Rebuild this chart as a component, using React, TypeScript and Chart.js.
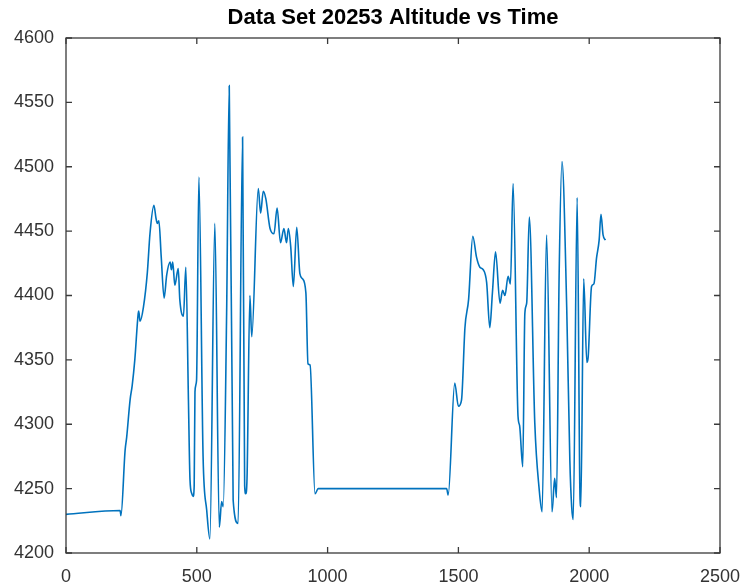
import { useEffect, useRef } from "react";
import { Chart, registerables } from "chart.js";

Chart.register(...registerables);

const chartTitle = "Data Set 20253 Altitude vs Time";

const timeValues = [
  0, 207, 210, 226, 232, 245, 253, 263, 276, 278, 283, 296, 311, 321, 336, 344, 349, 355, 364, 375,
  385, 398, 403, 408, 416, 429, 435, 449, 458, 468, 474, 481, 486, 490, 493, 499, 508, 524, 538, 550, 569, 586,
  595, 601, 614, 624, 639, 658, 675, 683, 687, 692, 703, 710, 735, 744, 754, 764, 780, 795, 807, 820, 833, 843,
  850, 859, 869, 882, 894, 904, 917, 925, 933, 952, 964, 1455, 1461, 1486, 1500, 1512, 1525, 1539, 1555, 1569,
  1582, 1595, 1608, 1620, 1630, 1642, 1659, 1669, 1678, 1690, 1699, 1709, 1728, 1734, 1746, 1754, 1761, 1771, 1792, 1809,
  1820, 1837, 1858, 1868, 1875, 1885, 1896, 1914, 1926, 1933, 1939, 1954, 1965, 1968, 1979, 1991, 1996, 2009, 2018, 2028, 2038, 2045,
  2053, 2062,
];

const altitudeValues = [
  4230, 4233, 4229, 4280, 4290, 4319, 4330, 4350, 4386, 4388, 4380, 4391, 4418, 4448, 4470, 4460, 4456, 4458, 4430, 4398,
  4416, 4426, 4420, 4426, 4408, 4421, 4397, 4384, 4422, 4319, 4257, 4246, 4244, 4252, 4325, 4334, 4492, 4275, 4233, 4211, 4456, 4220,
  4240, 4236, 4386, 4563, 4241, 4223, 4523, 4252, 4246, 4258, 4400, 4368, 4483, 4464, 4481, 4475, 4452, 4448, 4468, 4441, 4452, 4441,
  4452, 4438, 4407, 4453, 4417, 4413, 4402, 4347, 4346, 4246, 4250, 4250, 4245, 4332, 4314, 4319, 4375, 4397, 4446, 4430,
  4422, 4420, 4410, 4375, 4402, 4434, 4394, 4404, 4400, 4415, 4409, 4487, 4306, 4299, 4267, 4386, 4394, 4461, 4301, 4249,
  4232, 4447, 4232, 4258, 4243, 4415, 4504, 4391, 4272, 4236, 4226, 4476, 4242, 4236, 4413, 4348, 4352, 4407, 4409, 4429, 4443, 4463,
  4447, 4443,
];

const xTickValues = [0, 500, 1000, 1500, 2000, 2500];
const yTickValues = [4200, 4250, 4300, 4350, 4400, 4450, 4500, 4550, 4600];

const FONT = "'Liberation Sans', Arial, Helvetica, sans-serif";

const boxPlugin = {
  id: "matlabBox",
  afterDraw(chart: any) {
    const { ctx, chartArea: a, scales } = chart;
    ctx.save();
    ctx.strokeStyle = "#3a3a3a";
    ctx.lineWidth = 1.3;
    ctx.strokeRect(a.left, a.top, a.right - a.left, a.bottom - a.top);
    const L = 6;
    ctx.beginPath();
    xTickValues.forEach((v) => {
      const px = scales.x.getPixelForValue(v);
      ctx.moveTo(px, a.bottom);
      ctx.lineTo(px, a.bottom - L);
      ctx.moveTo(px, a.top);
      ctx.lineTo(px, a.top + L);
    });
    yTickValues.forEach((v) => {
      const py = scales.y.getPixelForValue(v);
      ctx.moveTo(a.left, py);
      ctx.lineTo(a.left + L, py);
      ctx.moveTo(a.right, py);
      ctx.lineTo(a.right - L, py);
    });
    ctx.stroke();
    // title centred over the plot area
    ctx.fillStyle = "#000000";
    ctx.font = `bold 22px ${FONT}`;
    ctx.textAlign = "center";
    ctx.textBaseline = "middle";
    ctx.fillText(chartTitle, (a.left + a.right) / 2, 18);
    ctx.restore();
  },
};

export default function App() {
  const canvasRef = useRef<HTMLCanvasElement | null>(null);

  useEffect(() => {
    if (!canvasRef.current) return;
    const points = timeValues.map((t, i) => ({ x: t, y: altitudeValues[i] }));
    const chart = new Chart(canvasRef.current, {
      type: "line",
      data: {
        datasets: [
          {
            data: points,
            borderColor: "#0072BD",
            borderWidth: 1.6,
            pointRadius: 0,
            cubicInterpolationMode: "monotone",
            fill: false,
          },
        ],
      },
      options: {
        animation: false,
        responsive: false,
        maintainAspectRatio: false,
        layout: { padding: { left: 0, right: 22, top: 38, bottom: 0 } },
        plugins: {
          legend: { display: false },
          tooltip: { enabled: false },
          title: { display: false },
        },
        scales: {
          x: {
            type: "linear",
            min: 0,
            max: 2500,
            afterBuildTicks: (scale: any) => {
              scale.ticks = xTickValues.map((v) => ({ value: v }));
            },
            afterFit: (scale: any) => {
              scale.height = 33;
            },
            ticks: {
              color: "#333333",
              font: { family: FONT, size: 18 },
              padding: 0,
              maxRotation: 0,
              autoSkip: false,
              callback: (v: any) => String(v),
            },
            grid: { display: false, drawTicks: true, tickLength: 13 },
            border: { display: false },
          },
          y: {
            type: "linear",
            min: 4200,
            max: 4600,
            afterBuildTicks: (scale: any) => {
              scale.ticks = yTickValues.map((v) => ({ value: v }));
            },
            afterFit: (scale: any) => {
              scale.width = 66;
            },
            ticks: {
              color: "#333333",
              font: { family: FONT, size: 18 },
              padding: 12,
              autoSkip: false,
              callback: (v: any) => String(v),
            },
            grid: { display: false, drawTicks: false },
            border: { display: false },
          },
        },
      },
      plugins: [boxPlugin],
    });
    return () => chart.destroy();
  }, []);

  return (
    <div style={{ position: "fixed", left: 0, top: 0, width: 742, height: 586, background: "#ffffff" }}>
      <canvas ref={canvasRef} width={742} height={586} style={{ display: "block" }} />
    </div>
  );
}
